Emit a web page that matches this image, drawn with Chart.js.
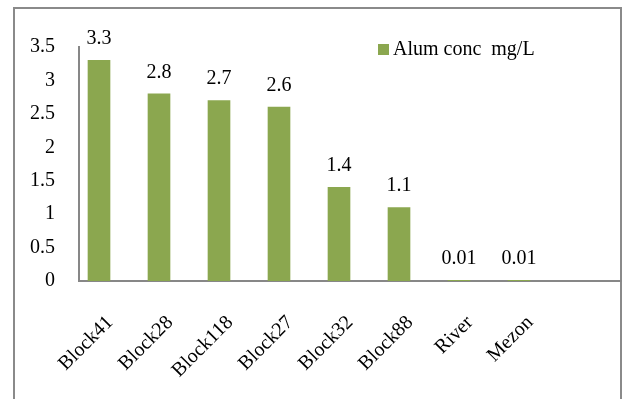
<!DOCTYPE html>
<html>
<head>
<meta charset="utf-8">
<script src="https://cdn.jsdelivr.net/npm/chart.js@4"></script>
<style>
  html, body { margin: 0; padding: 0; background: #ffffff; }
  #wrap { position: relative; width: 622px; height: 399px; overflow: hidden; }
  #frame { position: absolute; left: 13px; top: 7px; width: 605px; height: 420px;
           border: 2px solid #8a8a8a; border-bottom: none; box-sizing: content-box; }
  #c { position: absolute; left: 0; top: 0; }
</style>
</head>
<body>
<div id="wrap">
  <div id="frame"></div>
  <canvas id="c" width="622" height="399"></canvas>
</div>
<script>
const categories = ["Block41", "Block28", "Block118", "Block27", "Block32", "Block88", "River", "Mezon"];
const alumConc = [3.3, 2.8, 2.7, 2.6, 1.4, 1.1, 0.01, 0.01];
const valueLabels = ["3.3", "2.8", "2.7", "2.6", "1.4", "1.1", "0.01", "0.01"];
const seriesName = "Alum conc  mg/L";
const yTickLabels = ["0", "0.5", "1", "1.5", "2", "2.5", "3", "3.5"];

const FONT = "'Liberation Serif', 'Times New Roman', serif";
const BAR_COLOR = "#8ba74f";
const AXIS_COLOR = "#878787";

const dataLabelPlugin = {
  id: 'dataLabels',
  afterDatasetsDraw(chart) {
    const ctx = chart.ctx;
    const meta = chart.getDatasetMeta(0);
    ctx.save();
    ctx.font = "20px " + FONT;
    ctx.fillStyle = "#000";
    ctx.textAlign = "center";
    ctx.textBaseline = "alphabetic";
    meta.data.forEach((bar, i) => {
      ctx.fillText(valueLabels[i], bar.x, bar.y - 16);
    });
    ctx.restore();
  }
};

const legendPlugin = {
  id: 'customLegend',
  afterDraw(chart) {
    const ctx = chart.ctx;
    const a = chart.chartArea;
    const x = a.left + 299;
    const y = a.top + 2;
    ctx.save();
    ctx.fillStyle = BAR_COLOR;
    ctx.fillRect(x, y - 5, 11, 11);
    ctx.font = "20px " + FONT;
    ctx.fillStyle = "#000";
    ctx.textAlign = "left";
    ctx.textBaseline = "middle";
    ctx.fillText(seriesName, x + 15, y + 1);
    ctx.restore();
  }
};

new Chart(document.getElementById('c'), {
  type: 'bar',
  data: {
    datasets: [{
      label: seriesName,
      data: alumConc.map((v, i) => ({ x: i, y: v })),
      backgroundColor: BAR_COLOR,
      borderWidth: 0,
      barThickness: 22
    }]
  },
  options: {
    responsive: false,
    animation: false,
    events: [],
    layout: { padding: { top: 47, right: 1, left: 0, bottom: 0 } },
    plugins: { legend: { display: false }, tooltip: { enabled: false } },
    scales: {
      x: {
        type: 'linear',
        offset: false,
        bounds: 'data',
        min: -1 / 3,
        max: 8.7,
        grid: { display: false, drawTicks: false },
        border: { display: true, color: AXIS_COLOR, width: 2 },
        afterBuildTicks(scale) { scale.ticks = categories.map((_, i) => ({ value: i })); },
        afterFit(scale) { scale.height = 118; },
        ticks: {
          autoSkip: false,
          minRotation: 45,
          maxRotation: 45,
          padding: 30,
          labelOffset: 11,
          color: '#000',
          font: { family: FONT, size: 20 },
          callback: (v) => categories[v] !== undefined ? categories[v] : ''
        }
      },
      y: {
        min: 0,
        max: 3.5,
        grid: { display: false, drawTicks: false },
        border: { display: true, color: AXIS_COLOR, width: 2 },
        afterFit(scale) { scale.width = 79; },
        ticks: {
          stepSize: 0.5,
          padding: 24,
          color: '#000',
          font: { family: FONT, size: 20 },
          callback: (v, i) => yTickLabels[Math.round(v * 2)]
        }
      }
    }
  },
  plugins: [dataLabelPlugin, legendPlugin]
});
</script>
</body>
</html>
